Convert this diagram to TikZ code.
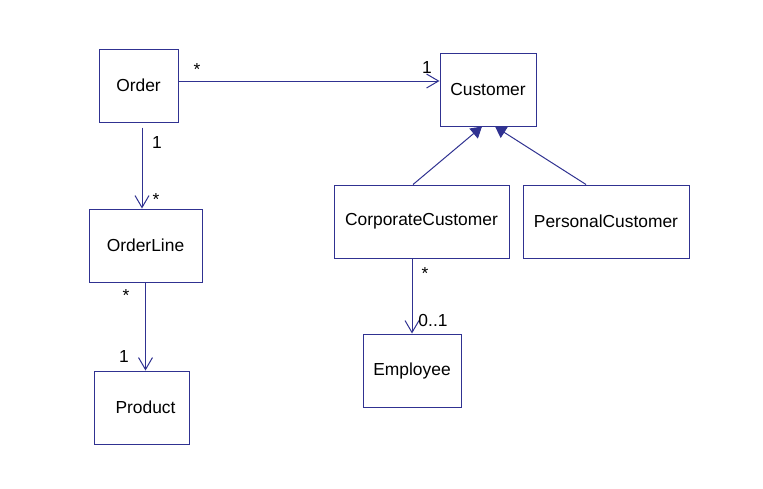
\documentclass[tikz,border=0pt]{standalone}
\usepackage{fontspec}
\setmainfont{Liberation Sans}
\usepackage{xcolor}
\usepackage{tikz}
\usetikzlibrary{arrows.meta,positioning,calc}
\definecolor{umlblue}{RGB}{48,50,145}

\begin{document}
\begin{tikzpicture}[x=0.5pt,y=-0.5pt,font=\fontsize{8.7}{10}\selectfont,
   cls/.style={rectangle,draw=umlblue,line width=0.5pt,minimum height=36.5pt,inner sep=0pt},
   assoc/.style={draw=umlblue,line width=0.5pt,-{Straight Barb[length=6pt,width=7pt]}},
   gen/.style={draw=umlblue,line width=0.5pt,-{Triangle[length=5.5pt,width=6.5pt]}},
   mult/.style={inner sep=0pt}]
  \useasboundingbox (0,0) rectangle (763,488);
  % classes
  \node[cls,minimum width=39.5pt] (order) at (138.5,85.5) {Order};
  \node[cls,minimum width=48pt] (cust) at (488,89.5) {Customer};
  \node[cls,minimum width=56.5pt] (oline) at (145.5,245.5) {OrderLine};
  \node[cls,minimum width=47.5pt] (prod) at (141.5,407.5) {\hspace{4pt}Product};
  \node[cls,minimum width=87.5pt] (corp) at (421.5,221.5) {CorporateCustomer};
  \node[cls,minimum width=83pt] (pers) at (606,221.5) {PersonalCustomer};
  \node[cls,minimum width=49pt] (emp) at (412,370.5) {Employee};
  % associations
  \draw[assoc] ([yshift=2.25pt]order.east) -- ([yshift=2.25pt]order.east -| cust.west);
  \draw[assoc] ([xshift=1.75pt,yshift=-2.5pt]order.south) -- ([xshift=1.75pt]order.south |- oline.north);
  \draw[assoc] (oline.south) -- (oline.south |- prod.north);
  \draw[assoc] (emp.north |- corp.south) -- (emp.north);
  % generalisation
  \draw[gen] ([xshift=-4.25pt]corp.north) -- ([xshift=-3pt]cust.south);
  \draw[gen] ([xshift=-10pt]pers.north) -- ([xshift=3.5pt]cust.south);
  % multiplicities
  \node[mult] (m1) at (197,70) {*};
  \node[mult] (m2) at (427,68) {1};
  \node[mult] (m3) at (157,143) {1};
  \node[mult] (m4) at (156,200) {*};
  \node[mult] (m5) at (126,296) {*};
  \node[mult] (m6) at (124,357) {1};
  \node[mult] (m7) at (425,274) {*};
  \node[mult] (m8) at (433,320) {0..1};
\end{tikzpicture}
\end{document}
